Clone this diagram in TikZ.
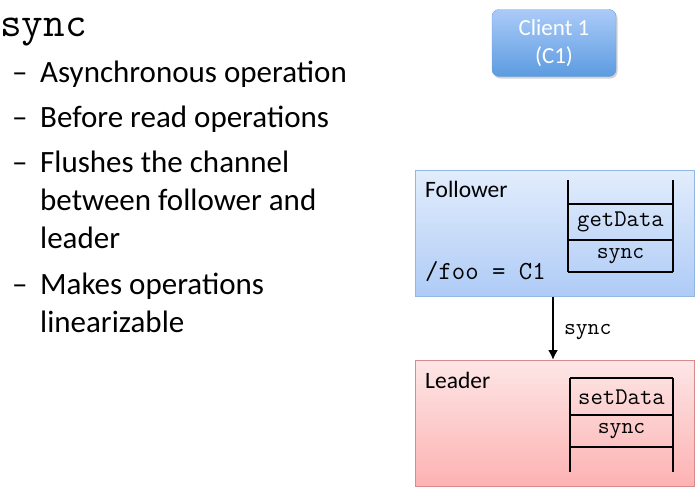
\documentclass[tikz,border=0pt]{standalone}
\usepackage{fontspec}
\setmainfont{Carlito}
\usetikzlibrary{positioning,shadows,arrows.meta}
\definecolor{couleurclienthaut}{HTML}{ABCBF8}
\definecolor{couleurclientbas}{HTML}{5C9BE0}
\definecolor{couleurclientbord}{HTML}{6E9FD8}
\definecolor{couleursuivhaut}{HTML}{E2EDFC}
\definecolor{couleursuivbas}{HTML}{AECBF6}
\definecolor{couleursuivbord}{HTML}{94B6E2}
\definecolor{couleurchefhaut}{HTML}{FDE6E6}
\definecolor{couleurchefbas}{HTML}{FDB2B2}
\definecolor{couleurchefbord}{HTML}{D98A8A}
\newcommand{\tiret}[2]{\node[puce] at (12,#1) {--}; \node[texte] at (40,#1-26.6) {\strut #2};}
\newcommand{\pilevert}[3]{\draw[pile] (#1,#2) -- (#1,#3);}
\newcommand{\pilehorz}[3]{\draw[pile] (#1,#3) -- (#2,#3);}
\tikzset{
		texte/.style={anchor=north west, inner sep=0pt, font=\fontsize{31}{38}\selectfont, align=left},
		puce/.style={texte, anchor=base west},
		serveur/.style={draw, anchor=north west, minimum width=279, minimum height=126, line width=0.8pt},
		suiveur/.style={serveur, top color=couleursuivhaut, bottom color=couleursuivbas, draw=couleursuivbord},
		chef/.style={serveur, top color=couleurchefhaut, bottom color=couleurchefbas, draw=couleurchefbord},
		client/.style={draw=couleurclientbord, rounded corners=7pt, top color=couleurclienthaut, bottom color=couleurclientbas, minimum width=124, minimum height=67, text=white, align=center, font=\fontsize{23}{28}\selectfont, drop shadow={opacity=0.35, shadow xshift=1.5pt, shadow yshift=-2pt}},
		etiq/.style={anchor=base west, inner sep=0pt, font=\fontsize{23.5}{25}\selectfont},
		cellule/.style={inner sep=0pt, font=\ttfamily\fontsize{23}{25}\selectfont},
		pile/.style={line width=1.6pt}
	}
\begin{document}
\begin{tikzpicture}[x=1pt, y=-1pt]
		\useasboundingbox (0,0) rectangle (696,490);
		% titre et puces
		\node[texte, anchor=base west, font=\ttfamily\fontsize{42}{44}\selectfont] (titre) at (0,36) {sync};
		\tiret{82}{Asynchronous operation}
		\tiret{127}{Before read operations}
		\tiret{172}{Flushes the channel\\between follower and\\leader}
		\tiret{294}{Makes operations\\linearizable}
		% client
		\node[client] (client) at (554,43) {\raisebox{-3pt}{\parbox{5em}{\centering Client 1\\(C1)}}};
		% suiveur
		\node[suiveur] (follower) at (415,170) {};
		\node[etiq] (nomsuiv) at (425,197) {Follower};
		\node[etiq, font=\ttfamily\fontsize{26}{28}\selectfont] (foo) at (425,279) {/foo = C1};
		\pilevert{568}{180}{272}
		\pilevert{673}{180}{272}
		\pilehorz{568}{673}{204}
		\pilehorz{568}{673}{240}
		\pilehorz{568}{673}{272}
		\node[cellule, font=\ttfamily\fontsize{24}{25}\selectfont] (getdata) at (620.5,222) {getData};
		\node[cellule] (syncsuiv) at (620.5,256) {sync};
		% chef
		\node[chef] (leader) at (415,360) {};
		\node[etiq] (nomchef) at (425,388) {Leader};
		\pilevert{570}{378}{472}
		\pilevert{673}{378}{472}
		\pilehorz{570}{673}{378}
		\pilehorz{570}{673}{415}
		\pilehorz{570}{673}{447}
		\node[cellule, font=\ttfamily\fontsize{24}{25}\selectfont] (setdata) at (621.5,397) {setData};
		\node[cellule] (syncchef) at (621.5,431) {sync};
		% lien
		\draw[-{Latex[length=10pt, width=10pt]}, line width=2pt] (follower.south -| 553,0) -- node[right=10pt, yshift=-4pt, cellule] (synclien) {sync} (leader.north -| 553,0);
	\end{tikzpicture}
\end{document}
